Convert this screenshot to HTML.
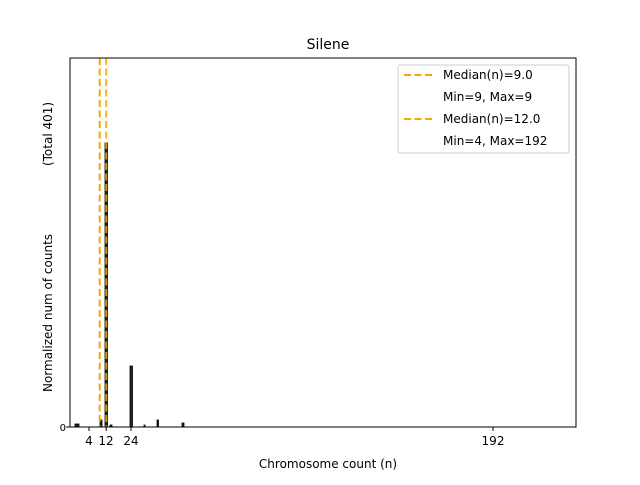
<!DOCTYPE html>
<html><head><style>body{margin:0;background:#fff}svg text{font-family:"DejaVu Sans","Liberation Sans",sans-serif}</style></head><body>
<svg width="640" height="480" xmlns="http://www.w3.org/2000/svg">
<rect width="640" height="480" fill="#fff"/>
<text x="328" y="49" font-size="14" text-anchor="middle">Silene</text>
<g fill="#1a2e10" stroke="#000" stroke-width="0.8">
<rect x="75" y="424" width="4" height="3"/>
<rect x="100" y="420" width="2" height="7"/>
<rect x="105" y="143" width="2.5" height="284"/>
<rect x="110" y="425" width="2" height="2"/>
<rect x="130" y="366" width="2.5" height="61"/>
<rect x="144" y="425" width="1" height="2"/>
<rect x="157" y="420" width="1.5" height="7"/>
<rect x="182" y="423" width="2" height="4"/>
</g>
<line x1="99.7" y1="58" x2="99.7" y2="427" stroke="#f5a800" stroke-width="2" stroke-dasharray="7,3.5"/>
<line x1="106.2" y1="58" x2="106.2" y2="427" stroke="#f5a800" stroke-width="2" stroke-dasharray="7,3.5" opacity="0.85"/>
<rect x="70" y="58" width="506" height="369" fill="none" stroke="#000" stroke-width="1"/>
<g stroke="#000"><line x1="89" y1="427" x2="89" y2="431"/><line x1="106.2" y1="427" x2="106.2" y2="431"/><line x1="131" y1="427" x2="131" y2="431"/><line x1="493" y1="427" x2="493" y2="431"/><line x1="66" y1="427" x2="70" y2="427"/></g>
<g font-size="12" text-anchor="middle"><text x="89" y="445">4</text><text x="106" y="445">12</text><text x="131" y="445">24</text><text x="493" y="445">192</text></g>
<text x="66" y="431" font-size="10" text-anchor="end">0</text>
<text x="328" y="468" font-size="12" text-anchor="middle">Chromosome count (n)</text>
<text transform="translate(52,313) rotate(-90)" font-size="12" text-anchor="middle">Normalized num of counts</text>
<text transform="translate(52,134) rotate(-90)" font-size="12" text-anchor="middle">(Total 401)</text>
<rect x="398" y="65" width="171" height="88" fill="#fff" stroke="#ccc" rx="2"/>
<line x1="404" y1="75" x2="432" y2="75" stroke="#f5a800" stroke-width="2" stroke-dasharray="7,3.5"/>
<line x1="404" y1="119" x2="432" y2="119" stroke="#f5a800" stroke-width="2" stroke-dasharray="7,3.5"/>
<g font-size="12"><text x="443" y="79">Median(n)=9.0</text><text x="443" y="101">Min=9, Max=9</text><text x="443" y="123">Median(n)=12.0</text><text x="443" y="145">Min=4, Max=192</text></g>
</svg>
</body></html>
